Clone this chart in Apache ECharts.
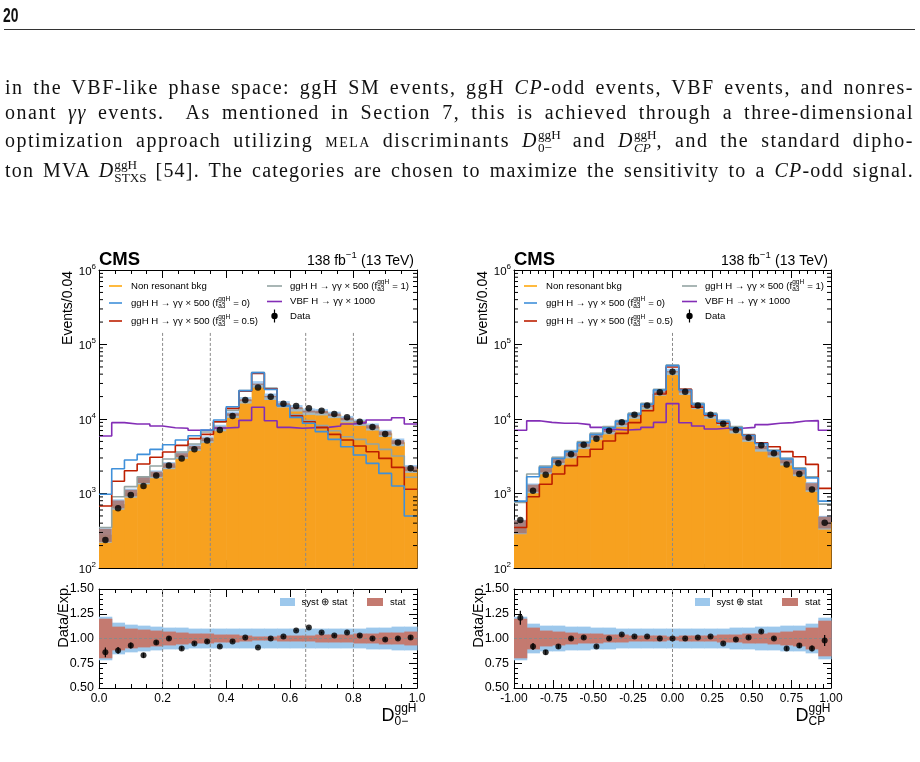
<!DOCTYPE html>
<html>
<head>
<meta charset="utf-8">
<script src="https://cdn.jsdelivr.net/npm/echarts@6/dist/echarts.min.js"></script>
<style>
body { margin: 0; background: #fff; }
#page { position: relative; width: 920px; height: 762px; overflow: hidden; }
#main { position: absolute; left: 0; top: 0; width: 920px; height: 762px; }
.hdr { position: absolute; left: 3px; top: 4px; font: bold 21px 'Liberation Sans', Arial, sans-serif; line-height: 21px; transform: scaleX(0.66); transform-origin: left top; color: #111; }
.rule { position: absolute; left: 4px; top: 29px; width: 911px; height: 0; border-top: 1px solid #333; }
.ln { position: absolute; left: 5px; width: 909px; font: 20px 'Liberation Serif', 'DejaVu Serif', serif; line-height: 24px; letter-spacing: 1.2px; text-align: justify; text-align-last: justify; color: #111; z-index: 5; }
.sc { font-variant: small-caps; }
.ss { display: inline-flex; flex-direction: column; align-items: flex-start; font-size: 0.66em; line-height: 1; position: relative; top: -0.62em; letter-spacing: 0; }
</style>
</head>
<body>
<div id="page">
  <div id="main"></div>
  <div class="hdr">20</div>
  <div class="rule"></div>
  <div class="ln" style="top:75px;letter-spacing:1.5px">in the VBF-like phase space: ggH SM events, ggH <i>CP</i>-odd events, VBF events, and nonres-</div>
  <div class="ln" style="top:100px;letter-spacing:1.5px">onant <i>γγ</i> events.&nbsp; As mentioned in Section 7, this is achieved through a three-dimensional</div>
  <div class="ln" style="top:128px;letter-spacing:1.5px">optimization approach utilizing <span class="sc">mela</span> discriminants <i>D</i><span class="ss"><span>ggH</span><span>0−</span></span> and <i>D</i><span class="ss"><span>ggH</span><span><i>CP</i></span></span>, and the standard dipho-</div>
  <div class="ln" style="top:158px;letter-spacing:1.2px">ton MVA <i>D</i><span class="ss"><span>ggH</span><span>STXS</span></span> [54]. The categories are chosen to maximize the sensitivity to a <i>CP</i>-odd signal.</div>
</div>
<script>
// ---- data: left panel, D_0-^ggH (25 bins from 0 to 1) ----
var bkgL = [280, 720, 1020, 1520, 1820, 2380, 3280, 4150, 5310, 7610, 11500, 17900, 29300, 20000, 15800, 14000, 12600, 12400, 11400, 10000, 8980, 7850, 6450, 4890, 2150];
var dataL = [238, 634, 953, 1260, 1748, 2370, 2940, 3930, 5130, 7100, 11000, 18000, 26500, 19950, 16050, 15000, 13900, 12950, 11700, 10550, 9200, 7780, 6300, 4850, 2175];
var ggh0L = [975, 2150, 2810, 3350, 3910, 4520, 5220, 5970, 7110, 9680, 14600, 24000, 41900, 25000, 15000, 10500, 8750, 6760, 5330, 4250, 3280, 2540, 1860, 1260, 499];
var ggh05L = [680, 1460, 2020, 2490, 3060, 3600, 4430, 5450, 6220, 9200, 13900, 23700, 41000, 25500, 15200, 11000, 9200, 7730, 6220, 5220, 4340, 3640, 2960, 2240, 1140];
var ggh1L = [350, 906, 1235, 1680, 2340, 2900, 3600, 4610, 6680, 9120, 13100, 24000, 42000, 26000, 15500, 11500, 9500, 8140, 6970, 5790, 5330, 4610, 3910, 3180, 1650];
var vbfL = [5910, 8930, 8570, 8570, 8050, 7640, 7500, 7050, 7050, 7570, 7730, 9590, 14400, 9480, 7730, 7500, 7640, 7730, 8050, 8570, 8930, 9700, 9700, 10400, 8570];
var ratioL = [0.86, 0.88, 0.93, 0.83, 0.96, 1.00, 0.90, 0.95, 0.97, 0.92, 0.97, 1.01, 0.91, 1.00, 1.02, 1.08, 1.11, 1.06, 1.03, 1.06, 1.03, 1.00, 0.99, 1.00, 1.01];
var ratioErrL = [0.05, 0.035, 0.03, 0.025, 0.02, 0.02, 0.02, 0.015, 0.015, 0.012, 0.01, 0.008, 0.006, 0.007, 0.008, 0.008, 0.009, 0.009, 0.01, 0.01, 0.01, 0.011, 0.012, 0.014, 0.02];
var systStatL = [0.22, 0.16, 0.14, 0.13, 0.12, 0.11, 0.11, 0.10, 0.10, 0.10, 0.10, 0.10, 0.10, 0.10, 0.10, 0.10, 0.10, 0.10, 0.10, 0.10, 0.10, 0.11, 0.11, 0.12, 0.12];
var statL = [0.20, 0.12, 0.10, 0.09, 0.08, 0.07, 0.06, 0.05, 0.05, 0.04, 0.04, 0.03, 0.02, 0.02, 0.03, 0.03, 0.03, 0.04, 0.04, 0.04, 0.05, 0.05, 0.06, 0.06, 0.07];
var cutsL = [0.2, 0.35, 0.65, 0.8];

// ---- data: right panel, D_CP^ggH (25 bins from -1 to 1) ----
var bkgR = [364, 1185, 2080, 2760, 3360, 4475, 5920, 6970, 8660, 11180, 14900, 22800, 43100, 23300, 15050, 11180, 9100, 7180, 5550, 4140, 3460, 2730, 1960, 1240, 414];
var dataR = [441, 1090, 1780, 2540, 3360, 4520, 5450, 6970, 9010, 11400, 15200, 22800, 43100, 23300, 15200, 11400, 8650, 7110, 5610, 4440, 3460, 2460, 1830, 1130, 406];
var ggh0R = [790, 1680, 2250, 2950, 3650, 4800, 6200, 7600, 9300, 11600, 15800, 24500, 52000, 24500, 15800, 11600, 9200, 7600, 6000, 4700, 3750, 2900, 2150, 1620, 790];
var ggh05R = [350, 906, 1330, 1830, 2370, 3120, 3920, 5070, 6420, 8930, 12900, 21700, 50000, 25000, 14400, 11300, 8750, 7400, 6030, 4800, 4250, 3650, 3120, 2460, 1170];
var ggh1R = [760, 1830, 2340, 3060, 3760, 4970, 6430, 7890, 9500, 11900, 16200, 25000, 53100, 25000, 16200, 11900, 9400, 7890, 6170, 4810, 3840, 2970, 2220, 1680, 720];
var vbfR = [7050, 9450, 9020, 8750, 8750, 8400, 7730, 7260, 7110, 7260, 7730, 9000, 16100, 8900, 8050, 7350, 7570, 7500, 7730, 8400, 8750, 8940, 9400, 9500, 7050];
var ratioR = [1.21, 0.92, 0.86, 0.92, 1.00, 1.01, 0.92, 1.00, 1.04, 1.02, 1.02, 1.00, 1.00, 1.00, 1.01, 1.02, 0.95, 0.99, 1.01, 1.07, 1.00, 0.90, 0.93, 0.90, 0.98];
var ratioErrR = [0.07, 0.035, 0.025, 0.02, 0.017, 0.015, 0.013, 0.012, 0.01, 0.009, 0.008, 0.007, 0.005, 0.007, 0.008, 0.009, 0.01, 0.012, 0.013, 0.015, 0.017, 0.02, 0.025, 0.03, 0.055];
var systStatR = [0.22, 0.15, 0.13, 0.13, 0.12, 0.12, 0.11, 0.11, 0.10, 0.10, 0.10, 0.10, 0.10, 0.10, 0.10, 0.10, 0.10, 0.11, 0.11, 0.12, 0.12, 0.13, 0.13, 0.15, 0.21];
var statR = [0.20, 0.11, 0.08, 0.07, 0.06, 0.05, 0.05, 0.04, 0.04, 0.03, 0.03, 0.03, 0.02, 0.03, 0.03, 0.03, 0.04, 0.04, 0.05, 0.05, 0.06, 0.07, 0.08, 0.11, 0.18];
var cutsR = [0];

var nBins = 25;
var FONT = "'Liberation Sans', Arial, Helvetica, sans-serif";
var ORANGE = '#f7a11f';
var colBkg = '#ffa90e', colF0 = '#3f90da', colF05 = '#bd1f01', colF1 = '#94a4a2', colVbf = '#832db6';
var colTot = '#9dc8ec', colStat = '#c47a70';

var panels = [
    {g: 0, rg: 1, xmin: 0, xmax: 1, left: 99, width: 318, bkg: bkgL, data: dataL, f0: ggh0L, f05: ggh05L, f1: ggh1L, vbf: vbfL,
        ratio: ratioL, rerr: ratioErrL, tot: systStatL, stat: statL, cuts: cutsL, interval: 0.2, minor: 4, digits: 1},
    {g: 2, rg: 3, xmin: -1, xmax: 1, left: 514, width: 317, bkg: bkgR, data: dataR, f0: ggh0R, f05: ggh05R, f1: ggh1R, vbf: vbfR,
        ratio: ratioR, rerr: ratioErrR, tot: systStatR, stat: statR, cuts: cutsR, interval: 0.25, minor: 5, digits: 2}
];

var measureCtx = document.createElement('canvas').getContext('2d');
function textW(s, font) {
    measureCtx.font = font;
    return measureCtx.measureText(s).width;
}

function txt(s, x, y, font, opt) {
    opt = opt || {};
    return {
        type: 'text', x: x, y: y, silent: true, z: 100, rotation: opt.rotation || 0,
        style: {
            text: s, font: font, fill: '#000',
            align: opt.align || 'left', textAlign: opt.align || 'left',
            verticalAlign: 'middle', textVerticalAlign: 'middle'
        }
    };
}

// text with stacked super/subscripts, e.g. f^{ggH}_{a3}
function mathText(parts, x, y, size, align, scriptSize) {
    var f1 = size + 'px ' + FONT;
    var ssz = scriptSize || size * 0.68;
    var f2 = ssz.toFixed(1) + 'px ' + FONT;
    var widths = parts.map(function (p) {
        if (typeof p === 'string') return textW(p, f1);
        return Math.max(p.sup ? textW(p.sup, f2) : 0, p.sub ? textW(p.sub, f2) : 0) + 0.5;
    });
    var total = widths.reduce(function (a, b) { return a + b; }, 0);
    var cx = align === 'right' ? x - total : x;
    var out = [];
    parts.forEach(function (p, i) {
        if (typeof p === 'string') {
            out.push(txt(p, cx, y, f1));
        } else {
            if (p.sup) out.push(txt(p.sup, cx, y - size * 0.42, f2));
            if (p.sub) out.push(txt(p.sub, cx, y + size * 0.3, f2));
        }
        cx += widths[i];
    });
    return out;
}

function edges(p, i) {
    var w = (p.xmax - p.xmin) / nBins;
    return [p.xmin + i * w, p.xmin + (i + 1) * w];
}

function rectItem(api, x0, x1, ylo, yhi, fill, extra) {
    var a = api.coord([x0, yhi]);
    var b = api.coord([x1, ylo]);
    return {type: 'rect', shape: {x: a[0], y: a[1], width: b[0] - a[0] + (extra || 0), height: b[1] - a[1]}, style: {fill: fill}};
}

var grids = [], xAxes = [], yAxes = [], series = [], graphics = [];

panels.forEach(function (p) {
    grids.push({left: p.left, top: 270, width: p.width, height: 298});
    grids.push({left: p.left, top: 589, width: p.width, height: 99});

    [p.g, p.rg].forEach(function (g) {
        var isRatio = g === p.rg;
        ['bottom', 'top'].forEach(function (pos) {
            xAxes.push({
                gridIndex: g, type: 'value', position: pos, min: p.xmin, max: p.xmax, interval: p.interval,
                axisLine: {show: true, onZero: false, lineStyle: {color: '#000', width: 1}},
                axisTick: {inside: true, length: 8, lineStyle: {color: '#000'}},
                minorTick: {show: true, splitNumber: p.minor, length: 4, lineStyle: {color: '#000'}},
                splitLine: {show: false},
                axisLabel: (isRatio && pos === 'bottom') ? {
                    show: true, margin: 5, fontSize: 12, color: '#000', fontFamily: FONT,
                    showMinLabel: true, showMaxLabel: true,
                    formatter: function (v) { return v.toFixed(p.digits); }
                } : {show: false}
            });
        });
        ['left', 'right'].forEach(function (pos) {
            if (isRatio) {
                yAxes.push({
                    gridIndex: g, type: 'value', position: pos, min: 0.5, max: 1.5, interval: 0.25,
                    axisLine: {show: true, onZero: false, lineStyle: {color: '#000', width: 1}},
                    axisTick: {inside: true, length: 8, lineStyle: {color: '#000'}},
                    minorTick: {show: true, splitNumber: 5, length: 4, lineStyle: {color: '#000'}},
                    splitLine: {show: false},
                    axisLabel: pos === 'left' ? {
                        show: true, margin: 5, fontSize: 12.5, color: '#000', fontFamily: FONT,
                        showMinLabel: true, showMaxLabel: true,
                        formatter: function (v) { return v.toFixed(2); }
                    } : {show: false}
                });
            } else {
                yAxes.push({
                    gridIndex: g, type: 'log', logBase: 10, position: pos, min: 100, max: 1e6,
                    axisLine: {show: true, onZero: false, lineStyle: {color: '#000', width: 1}},
                    axisTick: {inside: true, length: 8, lineStyle: {color: '#000'}},
                    splitLine: {show: false},
                    axisLabel: pos === 'left' ? {
                        show: true, margin: 3, color: '#000', showMinLabel: true, showMaxLabel: true,
                        formatter: function (v) { return '{b|10}{s|' + Math.round(Math.log(v) / Math.LN10) + '}'; },
                        rich: {
                            b: {fontSize: 11.5, fontFamily: FONT, color: '#000', lineHeight: 15, verticalAlign: 'bottom'},
                            s: {fontSize: 8, fontFamily: FONT, color: '#000', verticalAlign: 'top'}
                        }
                    } : {show: false}
                });
            }
        });
    });

    var mainX = 2 * p.g, mainY = 2 * p.g, ratX = 2 * p.rg, ratY = 2 * p.rg;

    // background fill
    series.push({
        type: 'custom', xAxisIndex: mainX, yAxisIndex: mainY, z: 1, silent: true,
        encode: {x: [0, 1], y: 2},
        data: p.bkg.map(function (v, i) { var e = edges(p, i); return [e[0], e[1], v]; }),
        renderItem: function (params, api) {
            return rectItem(api, api.value(0), api.value(1), 100, api.value(2), ORANGE, 0.6);
        }
    });
    // uncertainty bands on the background
    series.push({
        type: 'custom', xAxisIndex: mainX, yAxisIndex: mainY, z: 2, silent: true,
        encode: {x: [0, 1], y: [2, 3]},
        data: p.bkg.map(function (v, i) { var e = edges(p, i); return [e[0], e[1], v * (1 - p.tot[i]), v * (1 + p.tot[i])]; }),
        renderItem: function (params, api) {
            return rectItem(api, api.value(0), api.value(1), api.value(2), api.value(3), 'rgba(140,190,236,0.8)');
        }
    });
    series.push({
        type: 'custom', xAxisIndex: mainX, yAxisIndex: mainY, z: 3, silent: true,
        encode: {x: [0, 1], y: [2, 3]},
        data: p.bkg.map(function (v, i) { var e = edges(p, i); return [e[0], e[1], v * (1 - p.stat[i]), v * (1 + p.stat[i])]; }),
        renderItem: function (params, api) {
            return rectItem(api, api.value(0), api.value(1), api.value(2), api.value(3), 'rgba(169,100,84,0.7)');
        }
    });

    // dashed category boundaries
    series.push({
        type: 'custom', xAxisIndex: mainX, yAxisIndex: mainY, z: 4, silent: true,
        data: p.cuts.map(function (c) { return [c, 1.43e5]; }),
        renderItem: function (params, api) {
            var a = api.coord([api.value(0), api.value(1)]);
            var b = api.coord([api.value(0), 100]);
            return {type: 'line', shape: {x1: a[0], y1: a[1], x2: b[0], y2: b[1]}, style: {stroke: '#8a8a8a', lineWidth: 1, lineDash: [3, 2]}};
        }
    });
    series.push({
        type: 'custom', xAxisIndex: ratX, yAxisIndex: ratY, z: 4, silent: true,
        data: p.cuts.map(function (c) { return [c, 1.5]; }),
        renderItem: function (params, api) {
            var a = api.coord([api.value(0), 1.5]);
            var b = api.coord([api.value(0), 0.5]);
            return {type: 'line', shape: {x1: a[0], y1: a[1], x2: b[0], y2: b[1]}, style: {stroke: '#8a8a8a', lineWidth: 1, lineDash: [3, 2]}};
        }
    });

    // minor log ticks on both sides
    var minorVals = [];
    [100, 1000, 10000, 100000].forEach(function (dec) {
        for (var k = 2; k <= 9; k++) minorVals.push([p.xmin, dec * k]);
    });
    series.push({
        type: 'custom', xAxisIndex: mainX, yAxisIndex: mainY, z: 10, silent: true,
        data: minorVals,
        renderItem: function (params, api) {
            var a = api.coord([p.xmin, api.value(1)]);
            var b = api.coord([p.xmax, api.value(1)]);
            return {type: 'group', children: [
                {type: 'line', shape: {x1: a[0], y1: a[1], x2: a[0] + 4, y2: a[1]}, style: {stroke: '#000', lineWidth: 1}},
                {type: 'line', shape: {x1: b[0], y1: b[1], x2: b[0] - 4, y2: b[1]}, style: {stroke: '#000', lineWidth: 1}}
            ]};
        }
    });

    // signal histograms
    [[p.vbf, colVbf], [p.f1, colF1], [p.f05, colF05], [p.f0, colF0]].forEach(function (s) {
        var pts = [];
        s[0].forEach(function (v, i) { var e = edges(p, i); pts.push([e[0], v], [e[1], v]); });
        series.push({
            type: 'line', xAxisIndex: mainX, yAxisIndex: mainY, z: 5, silent: true,
            data: pts, symbol: 'none', showSymbol: false,
            lineStyle: {color: s[1], width: 1.6}
        });
    });

    // data points
    series.push({
        type: 'scatter', xAxisIndex: mainX, yAxisIndex: mainY, z: 7, silent: true,
        data: p.data.map(function (v, i) { var e = edges(p, i); return [(e[0] + e[1]) / 2, v]; }),
        symbol: 'circle', symbolSize: 6.5, itemStyle: {color: '#000'}
    });

    // ratio panel bands
    series.push({
        type: 'custom', xAxisIndex: ratX, yAxisIndex: ratY, z: 1, silent: true,
        encode: {x: [0, 1], y: [2, 3]},
        data: p.tot.map(function (t, i) { var e = edges(p, i); return [e[0], e[1], 1 - t, 1 + t]; }),
        renderItem: function (params, api) {
            return rectItem(api, api.value(0), api.value(1), api.value(2), api.value(3), colTot, 0.6);
        }
    });
    series.push({
        type: 'custom', xAxisIndex: ratX, yAxisIndex: ratY, z: 2, silent: true,
        encode: {x: [0, 1], y: [2, 3]},
        data: p.stat.map(function (t, i) { var e = edges(p, i); return [e[0], e[1], 1 - t, 1 + t]; }),
        renderItem: function (params, api) {
            return rectItem(api, api.value(0), api.value(1), api.value(2), api.value(3), colStat, 0.6);
        }
    });
    // line at 1
    series.push({
        type: 'custom', xAxisIndex: ratX, yAxisIndex: ratY, z: 3, silent: true,
        data: [[p.xmin, 1]],
        renderItem: function (params, api) {
            var a = api.coord([p.xmin, 1]);
            var b = api.coord([p.xmax, 1]);
            return {type: 'line', shape: {x1: a[0], y1: a[1], x2: b[0], y2: b[1]}, style: {stroke: '#8a8a8a', lineWidth: 1, lineDash: [3, 2]}};
        }
    });
    // ratio error bars and points
    series.push({
        type: 'custom', xAxisIndex: ratX, yAxisIndex: ratY, z: 6, silent: true,
        encode: {x: 0, y: [1, 2]},
        data: p.ratio.map(function (r, i) { var e = edges(p, i); return [(e[0] + e[1]) / 2, r - p.rerr[i], r + p.rerr[i]]; }),
        renderItem: function (params, api) {
            var a = api.coord([api.value(0), api.value(1)]);
            var b = api.coord([api.value(0), api.value(2)]);
            return {type: 'line', shape: {x1: a[0], y1: a[1], x2: b[0], y2: b[1]}, style: {stroke: '#000', lineWidth: 1.2}};
        }
    });
    series.push({
        type: 'scatter', xAxisIndex: ratX, yAxisIndex: ratY, z: 7, silent: true,
        data: p.ratio.map(function (r, i) { var e = edges(p, i); return [(e[0] + e[1]) / 2, r]; }),
        symbol: 'circle', symbolSize: 6, itemStyle: {color: '#000'}
    });

    // ---- texts and legends ----
    var L = p.left, R = p.left + p.width, dx = p.left - 99;
    graphics.push(txt('CMS', L, 259.5, 'bold 18.5px ' + FONT));
    graphics = graphics.concat(mathText(['138 fb', {sup: '−1'}, ' (13 TeV)'], R - 3, 261, 14, 'right', 9.5));
    graphics.push(txt('Events/0.04', L - 31, 271, '14px ' + FONT, {align: 'right', rotation: Math.PI / 2}));
    graphics.push(txt('Data/Exp.', L - 35, 584, '14.5px ' + FONT, {align: 'right', rotation: Math.PI / 2}));

    var lsz = 9.6;
    var rowsL = [
        [colBkg, ['Non resonant bkg'], 286],
        [colF0, ['ggH H → γγ × 500 (f', {sup: 'ggH', sub: 'a3'}, ' = 0)'], 303],
        [colF05, ['ggH H → γγ × 500 (f', {sup: 'ggH', sub: 'a3'}, ' = 0.5)'], 321]
    ];
    rowsL.forEach(function (r) {
        graphics.push({type: 'line', silent: true, z: 100, shape: {x1: 109 + dx, y1: r[2], x2: 122 + dx, y2: r[2]}, style: {stroke: r[0], lineWidth: 1.6}});
        graphics = graphics.concat(mathText(r[1], 131 + dx, r[2], lsz, 'left'));
    });
    var rowsR = [
        [colF1, ['ggH H → γγ × 500 (f', {sup: 'ggH', sub: 'a3'}, ' = 1)'], 286],
        [colVbf, ['VBF H → γγ × 1000'], 301.5]
    ];
    rowsR.forEach(function (r) {
        graphics.push({type: 'line', silent: true, z: 100, shape: {x1: 267 + dx, y1: r[2], x2: 282 + dx, y2: r[2]}, style: {stroke: r[0], lineWidth: 1.6}});
        graphics = graphics.concat(mathText(r[1], 290 + dx, r[2], lsz, 'left'));
    });
    graphics.push({type: 'line', silent: true, z: 100, shape: {x1: 274.5 + dx, y1: 309.5, x2: 274.5 + dx, y2: 322.5}, style: {stroke: '#000', lineWidth: 1.2}});
    graphics.push({type: 'circle', silent: true, z: 100, shape: {cx: 274.5 + dx, cy: 316, r: 3.2}, style: {fill: '#000'}});
    graphics.push(txt('Data', 290 + dx, 316, lsz + 'px ' + FONT));

    // ratio legend
    graphics.push({type: 'rect', silent: true, z: 100, shape: {x: 280 + dx, y: 598, width: 15, height: 8}, style: {fill: colTot}});
    graphics.push(txt('syst ⊕ stat', 301.5 + dx, 602, lsz + 'px ' + FONT));
    graphics.push({type: 'rect', silent: true, z: 100, shape: {x: 367 + dx, y: 598, width: 16, height: 8}, style: {fill: colStat}});
    graphics.push(txt('stat', 390 + dx, 602, lsz + 'px ' + FONT));
});

// x-axis titles
graphics = graphics.concat(mathText(['D', {sup: 'ggH', sub: '0−'}], 417, 716.5, 18, 'right', 12));
graphics = graphics.concat(mathText(['D', {sup: 'ggH', sub: 'CP'}], 831, 716.5, 18, 'right', 12));

var chart = echarts.init(document.getElementById('main'));
chart.setOption({
    animation: false,
    backgroundColor: 'transparent',
    textStyle: {fontFamily: FONT},
    grid: grids,
    xAxis: xAxes,
    yAxis: yAxes,
    series: series,
    graphic: {elements: graphics}
});
</script>
</body>
</html>
